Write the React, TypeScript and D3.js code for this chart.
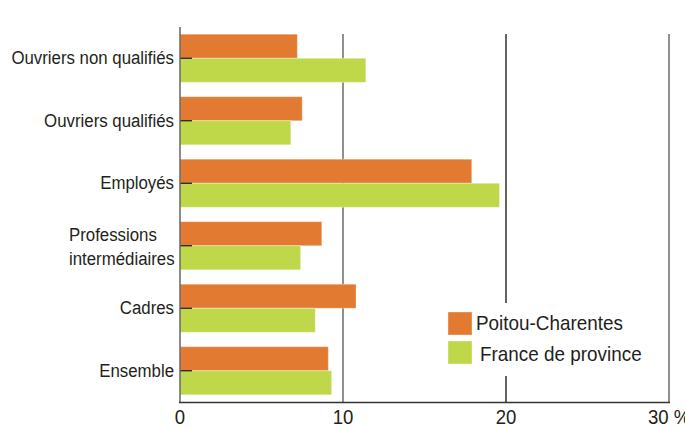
import React from "react";
import * as d3 from "d3";

const categories = [
  "Ouvriers non qualifiés",
  "Ouvriers qualifiés",
  "Employés",
  "Professions intermédiaires",
  "Cadres",
  "Ensemble",
];
const categoryLines: string[][] = [
  ["Ouvriers non qualifiés"],
  ["Ouvriers qualifiés"],
  ["Employés"],
  ["Professions", "intermédiaires"],
  ["Cadres"],
  ["Ensemble"],
];
const seriesNames = ["Poitou-Charentes", "France de province"];
const poitouCharentes = [7.2, 7.5, 17.9, 8.7, 10.8, 9.1];
const franceProvince = [11.4, 6.8, 19.6, 7.4, 8.3, 9.3];
const xTicks = [0, 10, 20, 30];
const xTickLabels = ["0", "10", "20", "30 %"];

const W = 685;
const H = 427;
const colors = ["#E37A31", "#BFD849"];

export default function App() {
  const x = d3.scaleLinear().domain([0, 30]).range([180, 669]);
  const y0 = d3
    .scaleBand<string>()
    .domain(categories)
    .range([27, 402])
    .paddingInner(0.23)
    .paddingOuter(0.115);
  const y1 = d3
    .scaleBand<string>()
    .domain(seriesNames)
    .range([0, y0.bandwidth()]);
  const series = [poitouCharentes, franceProvince];
  const font = "'Liberation Sans', Arial, sans-serif";
  const textColor = "#231F20";
  const sx = 0.885;

  return (
    <svg
      width={W}
      height={H}
      style={{ position: "absolute", left: 0, top: 0, background: "#fff" }}
      fontFamily={font}
    >
      <rect x={0} y={0} width={W} height={H} fill="#fff" />
      {/* grid lines */}
      {xTicks.slice(1).map((t, i) => (
        <line
          key={"g" + t}
          x1={x(t)}
          x2={x(t)}
          y1={34}
          y2={403}
          stroke={i === 1 ? "#111" : "#555"}
          strokeWidth={1.3}
        />
      ))}
      {/* bars */}
      {categories.map((c, ci) => (
        <g key={c} transform={`translate(0,${y0(c)})`}>
          {seriesNames.map((s, si) => (
            <rect
              key={s}
              x={x(0)}
              y={y1(s)}
              width={x(series[si][ci]) - x(0)}
              height={y1.bandwidth()}
              fill={colors[si]}
              stroke="#fff"
              strokeOpacity={0.35}
              strokeWidth={1}
            />
          ))}
        </g>
      ))}
      {/* left ticks */}
      {categories.map((c) => {
        const cy = (y0(c) as number) + y0.bandwidth() / 2;
        return (
          <line key={"t" + c} x1={180} x2={192} y1={cy} y2={cy} stroke="#111" strokeWidth={1.2} />
        );
      })}
      {/* axes */}
      <line x1={180} x2={180} y1={27} y2={403} stroke="#666" strokeWidth={1.5} />
      <line x1={179} x2={670} y1={402.5} y2={402.5} stroke="#333" strokeWidth={1.3} />
      {/* category labels */}
      {categories.map((c, ci) => {
        const cy = (y0(c) as number) + y0.bandwidth() / 2;
        const lines = categoryLines[ci];
        const multi = lines.length > 1;
        const start = multi ? cy - 5 : cy + 6;
        return (
          <text
            key={"l" + c}
            transform={`translate(${multi ? 69 : 174},${start}) scale(${sx},1)`}
            textAnchor={multi ? "start" : "end"}
            fontSize={19}
            fill={textColor}
          >
            {lines.map((ln, li) => (
              <tspan key={li} x={0} y={li * 24}>
                {ln}
              </tspan>
            ))}
          </text>
        );
      })}
      {/* x tick labels */}
      {xTicks.map((t, i) => {
        const last = i === xTicks.length - 1;
        return (
          <text
            key={"x" + t}
            transform={`translate(${last ? x(t) - 21 : x(t)},424) scale(${sx},1)`}
            textAnchor={last ? "start" : "middle"}
            fontSize={21}
            fill={textColor}
          >
            {xTickLabels[i]}
          </text>
        );
      })}
      {/* legend */}
      <rect x={444} y={303} width={206} height={73} fill="#fff" />
      {seriesNames.map((s, si) => (
        <g key={"lg" + s}>
          <rect
            x={448}
            y={312 + si * 29}
            width={24}
            height={23}
            fill={colors[si]}
            stroke="#fff"
            strokeOpacity={0.35}
          />
          <text
            transform={`translate(${si === 0 ? 476 : 480},${330 + si * 31}) scale(0.9,1)`}
            fontSize={21}
            fill={textColor}
          >
            {s}
          </text>
        </g>
      ))}
    </svg>
  );
}
